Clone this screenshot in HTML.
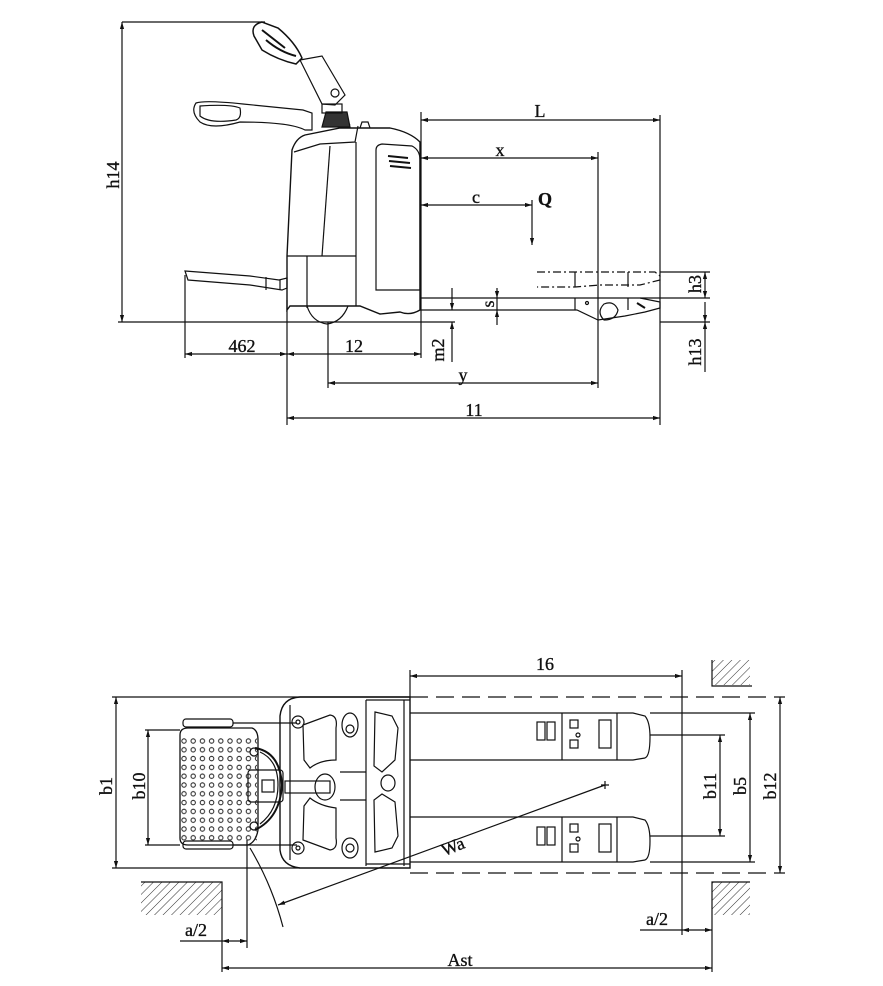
<!DOCTYPE html>
<html><head><meta charset="utf-8"><style>
html,body{margin:0;padding:0;background:#fff}
svg{display:block}
text{font-family:"Liberation Serif",serif;font-size:18px;fill:#111;stroke:#111;stroke-width:0.35}
</style></head><body>
<svg width="883" height="986" viewBox="0 0 883 986" xmlns="http://www.w3.org/2000/svg">
<defs>
<marker id="a" viewBox="0 0 10 10" refX="10" refY="5" markerWidth="9" markerHeight="7" orient="auto-start-reverse" markerUnits="userSpaceOnUse"><path d="M0,2 L10,5 L0,8 z" fill="#111"/></marker>
<pattern id="dots" x="181" y="738" width="9.2" height="8.8" patternUnits="userSpaceOnUse"><circle cx="3" cy="3" r="2.2" fill="none" stroke="#222" stroke-width="1"/></pattern>
<pattern id="hatch" width="6" height="6" patternUnits="userSpaceOnUse" patternTransform="rotate(45)"><line x1="0" y1="0" x2="0" y2="6" stroke="#333" stroke-width="1"/></pattern>
</defs>
<g fill="none" stroke="#111" stroke-width="1.2">
<line x1="122" y1="22" x2="265" y2="22"/>
<line x1="122" y1="22" x2="122" y2="322" marker-start="url(#a)" marker-end="url(#a)"/>
<line x1="118" y1="322" x2="455" y2="322"/>
<path d="M287,310 L287,256 L292,150 Q296,138 305,135 L340,128 L390,128 Q410,132 420,142 L420,310 Q410,316 400,312 L380,314 L360,306 L290,306 Z" stroke-width="1.4"/>
<path d="M294,152 L320,144 L355,142 L358,126"/>
<path d="M356,142 L356,306"/>
<path d="M330,146 L322,256"/>
<path d="M287,256 L356,256 M307,256 L307,308"/>
<path d="M376,150 Q376,145 382,144 L412,146 Q420,150 420,160 L420,290 L376,290 Z"/>
<path d="M388,156 L408,158 M389,161 L410,163 M390,166 L411,168" stroke-width="2"/>
<path d="M340,128 Q345,120 350,125 M360,128 L362,122 L368,122 L370,128"/>
<path d="M307,306 Q312,322 327,324 Q342,322 348,306"/>
<path d="M322,127 L326,112 L347,112 L350,127 Z" fill="#333"/>
<rect x="322" y="104" width="20" height="9"/>
<path d="M300,60 L322,56 L345,95 L335,105 L322,104 Z"/>
<circle cx="335" cy="93" r="4"/>
<path d="M254,36 Q250,25 262,22 L278,28 Q295,42 302,58 L296,64 Q278,60 262,50 Z" stroke-width="1.5"/>
<path d="M262,30 L285,48 M266,40 Q280,52 296,56" stroke-width="2"/>
<path d="M196,103 Q205,100 243,104 L303,110 L312,113 L312,130 L305,130 Q290,122 240,122 Q212,130 200,122 Q190,112 196,103 Z"/>
<path d="M200,106 Q230,104 240,108 Q242,118 236,120 Q210,124 200,116 Z"/>
<path d="M185,271 L250,276 L279,280 L287,278 L287,288 L282,290 L250,285 L188,280 Z"/>
<path d="M266,277 L266,290 M280,280 L280,290"/>
<path d="M421,298 L640,298 L660,302 L660,308 L645,312 L625,316 L598,320 L577,310 L421,310 Z"/>
<line x1="575" y1="298" x2="575" y2="310"/>
<line x1="628" y1="298" x2="628" y2="310"/>
<circle cx="587" cy="303" r="1.5"/>
<path d="M604,320 Q596,312 604,304 Q614,300 618,310 Q616,320 604,320 Z"/>
<path d="M637,303 L645,308" stroke-width="2"/>
<path d="M537,272 L655,272 L660,276 L660,280 L640,285 L600,285 L575,287 L537,287" stroke-dasharray="8,3,2,3"/>
<line x1="575" y1="272" x2="575" y2="287"/>
<line x1="628" y1="272" x2="628" y2="287"/>
<line x1="660" y1="272" x2="710" y2="272"/>
<line x1="640" y1="298" x2="710" y2="298"/>
<line x1="660" y1="322" x2="710" y2="322"/>
<line x1="705" y1="272" x2="705" y2="298" marker-start="url(#a)" marker-end="url(#a)"/>
<line x1="705" y1="302" x2="705" y2="322" marker-end="url(#a)"/>
<line x1="705" y1="372" x2="705" y2="322" marker-end="url(#a)"/>
<line x1="421" y1="112" x2="421" y2="298"/>
<line x1="660" y1="115" x2="660" y2="425"/>
<line x1="598" y1="152" x2="598" y2="388"/>
<line x1="421" y1="120" x2="660" y2="120" marker-start="url(#a)" marker-end="url(#a)"/>
<line x1="421" y1="158" x2="598" y2="158" marker-start="url(#a)" marker-end="url(#a)"/>
<line x1="421" y1="205" x2="532" y2="205" marker-start="url(#a)" marker-end="url(#a)"/>
<line x1="532" y1="200" x2="532" y2="245" marker-end="url(#a)"/>
<line x1="497" y1="288" x2="497" y2="298" marker-end="url(#a)"/>
<line x1="497" y1="325" x2="497" y2="310" marker-end="url(#a)"/>
<line x1="497" y1="298" x2="497" y2="310"/>
<line x1="452" y1="288" x2="452" y2="310" marker-end="url(#a)"/>
<line x1="452" y1="362" x2="452" y2="322" marker-end="url(#a)"/>
<line x1="185" y1="275" x2="185" y2="358"/>
<line x1="287" y1="300" x2="287" y2="425"/>
<line x1="328" y1="322" x2="328" y2="388"/>
<line x1="421" y1="310" x2="421" y2="358"/>
<line x1="185" y1="354" x2="287" y2="354" marker-start="url(#a)" marker-end="url(#a)"/>
<line x1="287" y1="354" x2="421" y2="354" marker-start="url(#a)" marker-end="url(#a)"/>
<line x1="328" y1="383" x2="598" y2="383" marker-start="url(#a)" marker-end="url(#a)"/>
<line x1="287" y1="418" x2="660" y2="418" marker-start="url(#a)" marker-end="url(#a)"/>

<line x1="410" y1="670" x2="410" y2="697"/>
<line x1="410" y1="676" x2="682" y2="676" marker-start="url(#a)" marker-end="url(#a)"/>
<line x1="682" y1="670" x2="682" y2="935"/>
<line x1="410" y1="697" x2="785" y2="697" stroke-dasharray="18,8"/>
<line x1="410" y1="873" x2="785" y2="873" stroke-dasharray="18,8"/>
<line x1="112" y1="697" x2="410" y2="697"/>
<line x1="112" y1="868" x2="300" y2="868"/>
<line x1="116" y1="697" x2="116" y2="868" marker-start="url(#a)" marker-end="url(#a)"/>
<line x1="145" y1="730" x2="180" y2="730"/>
<line x1="145" y1="845" x2="180" y2="845"/>
<line x1="148" y1="730" x2="148" y2="845" marker-start="url(#a)" marker-end="url(#a)"/>
<path d="M180,735 Q180,728 188,728 L252,728 Q258,730 258,740 L258,830 Q256,842 248,845 L188,845 Q180,845 180,838 Z" stroke-width="1.3"/>
<rect x="181" y="736" width="76" height="106" fill="url(#dots)" stroke="none"/>
<rect x="183" y="719" width="50" height="8" rx="3"/>
<rect x="183" y="841" width="50" height="8" rx="3"/>
<line x1="233" y1="723" x2="297" y2="723"/>
<line x1="233" y1="845" x2="297" y2="845"/>
<path d="M300,697 L410,697 L410,868 L300,868 Q282,866 280,850 L280,716 Q282,698 300,697 Z" stroke-width="1.4"/>
<path d="M290,705 L290,860"/>
<line x1="366" y1="700" x2="366" y2="866"/>
<line x1="366" y1="700" x2="410" y2="700"/>
<line x1="366" y1="864" x2="410" y2="864"/>
<line x1="404" y1="700" x2="404" y2="866"/>
<path d="M375,712 L392,716 L398,728 L395,760 L382,772 L374,766 Z"/>
<path d="M375,852 L392,848 L398,836 L395,802 L382,794 L374,800 Z"/>
<ellipse cx="388" cy="783" rx="7" ry="8"/>
<path d="M303,725 L330,715 Q338,716 336,728 L336,760 Q320,760 310,768 L304,760 Z"/>
<path d="M303,840 L330,850 Q338,849 336,838 L336,808 Q320,806 310,798 L304,806 Z"/>
<circle cx="298" cy="722" r="6"/><circle cx="298" cy="722" r="2"/>
<circle cx="298" cy="848" r="6"/><circle cx="298" cy="848" r="2"/>
<ellipse cx="350" cy="725" rx="8" ry="12"/><circle cx="350" cy="729" r="4"/>
<ellipse cx="350" cy="848" rx="8" ry="10"/><circle cx="350" cy="848" r="4"/>
<line x1="340" y1="772" x2="366" y2="772"/>
<line x1="340" y1="800" x2="366" y2="800"/>
<ellipse cx="325" cy="787" rx="10" ry="13"/>
<rect x="285" y="781" width="45" height="12"/>
<path d="M255,748 Q280,752 282,785 Q280,818 255,830" stroke-width="2"/>
<path d="M260,752 Q278,760 278,785 Q278,810 260,824"/>
<rect x="248" y="770" width="35" height="32" rx="3"/>
<rect x="262" y="780" width="12" height="12"/>
<circle cx="254" cy="752" r="4"/><circle cx="254" cy="826" r="4"/>
<path d="M410,713 L633,713 L645,716 Q650,722 650,737 Q650,756 645,758 L633,760 L410,760"/>
<path d="M410,817 L633,817 L645,820 Q650,826 650,841 Q650,858 645,860 L633,862 L410,862"/>
<line x1="562" y1="713" x2="562" y2="760"/><line x1="562" y1="817" x2="562" y2="862"/>
<line x1="617" y1="713" x2="617" y2="760"/><line x1="617" y1="817" x2="617" y2="862"/>
<rect x="537" y="722" width="8" height="18"/><rect x="547" y="722" width="8" height="18"/>
<rect x="537" y="827" width="8" height="18"/><rect x="547" y="827" width="8" height="18"/>
<rect x="570" y="720" width="8" height="8"/><rect x="570" y="740" width="8" height="8"/><circle cx="578" cy="735" r="2"/>
<rect x="570" y="824" width="8" height="8"/><rect x="570" y="844" width="8" height="8"/><circle cx="578" cy="839" r="2"/>
<rect x="599" y="720" width="12" height="28"/><rect x="599" y="824" width="12" height="28"/>
<line x1="650" y1="713" x2="755" y2="713"/>
<line x1="650" y1="862" x2="755" y2="862"/>
<line x1="650" y1="735" x2="725" y2="735"/>
<line x1="650" y1="836" x2="725" y2="836"/>
<line x1="720" y1="735" x2="720" y2="836" marker-start="url(#a)" marker-end="url(#a)"/>
<line x1="750" y1="713" x2="750" y2="862" marker-start="url(#a)" marker-end="url(#a)"/>
<line x1="780" y1="697" x2="780" y2="873" marker-start="url(#a)" marker-end="url(#a)"/>
<line x1="605" y1="785" x2="278" y2="905" marker-end="url(#a)"/>
<path d="M601,785 L609,785 M605,781 L605,789"/>
<path d="M250,848 Q272,885 283,927"/>
<rect x="141" y="882" width="81" height="33" fill="url(#hatch)" stroke="none"/>
<path d="M141,882 L222,882 L222,972"/>
<rect x="712" y="882" width="38" height="33" fill="url(#hatch)" stroke="none"/>
<path d="M750,882 L712,882 L712,972"/>
<rect x="712" y="660" width="38" height="25" fill="url(#hatch)" stroke="none"/>
<path d="M712,660 L712,686 L752,686"/>
<line x1="247" y1="840" x2="247" y2="948"/>
<line x1="180" y1="941" x2="222" y2="941"/>
<line x1="222" y1="941" x2="247" y2="941" marker-start="url(#a)" marker-end="url(#a)"/>
<line x1="640" y1="930" x2="682" y2="930"/>
<line x1="682" y1="930" x2="712" y2="930" marker-start="url(#a)" marker-end="url(#a)"/>
<line x1="222" y1="968" x2="712" y2="968" marker-start="url(#a)" marker-end="url(#a)"/>
</g>
<g>
<text x="115" y="175" transform="rotate(-90 115 175)" text-anchor="middle" dominant-baseline="middle">h14</text>
<text x="540" y="117" text-anchor="middle">L</text>
<text x="500" y="156" text-anchor="middle">x</text>
<text x="476" y="203" text-anchor="middle">c</text>
<text x="545" y="205" text-anchor="middle" font-weight="bold">Q</text>
<text x="490" y="304" transform="rotate(-90 490 304)" text-anchor="middle" dominant-baseline="middle">s</text>
<text x="440" y="350" transform="rotate(-90 440 350)" text-anchor="middle" dominant-baseline="middle">m2</text>
<text x="697" y="284" transform="rotate(-90 697 284)" text-anchor="middle" dominant-baseline="middle">h3</text>
<text x="697" y="352" transform="rotate(-90 697 352)" text-anchor="middle" dominant-baseline="middle">h13</text>
<text x="242" y="352" text-anchor="middle">462</text>
<text x="354" y="352" text-anchor="middle">12</text>
<text x="463" y="381" text-anchor="middle">y</text>
<text x="474" y="416" text-anchor="middle">11</text>
<text x="545" y="670" text-anchor="middle">16</text>
<text x="108" y="786" transform="rotate(-90 108 786)" text-anchor="middle" dominant-baseline="middle">b1</text>
<text x="141" y="786" transform="rotate(-90 141 786)" text-anchor="middle" dominant-baseline="middle">b10</text>
<text x="712" y="786" transform="rotate(-90 712 786)" text-anchor="middle" dominant-baseline="middle">b11</text>
<text x="742" y="786" transform="rotate(-90 742 786)" text-anchor="middle" dominant-baseline="middle">b5</text>
<text x="772" y="786" transform="rotate(-90 772 786)" text-anchor="middle" dominant-baseline="middle">b12</text>
<text x="455" y="852" transform="rotate(-22 455 852)" text-anchor="middle">Wa</text>
<text x="196" y="936" text-anchor="middle">a/2</text>
<text x="657" y="925" text-anchor="middle">a/2</text>
<text x="460" y="966" text-anchor="middle">Ast</text>
</g>
</svg>
</body></html>
